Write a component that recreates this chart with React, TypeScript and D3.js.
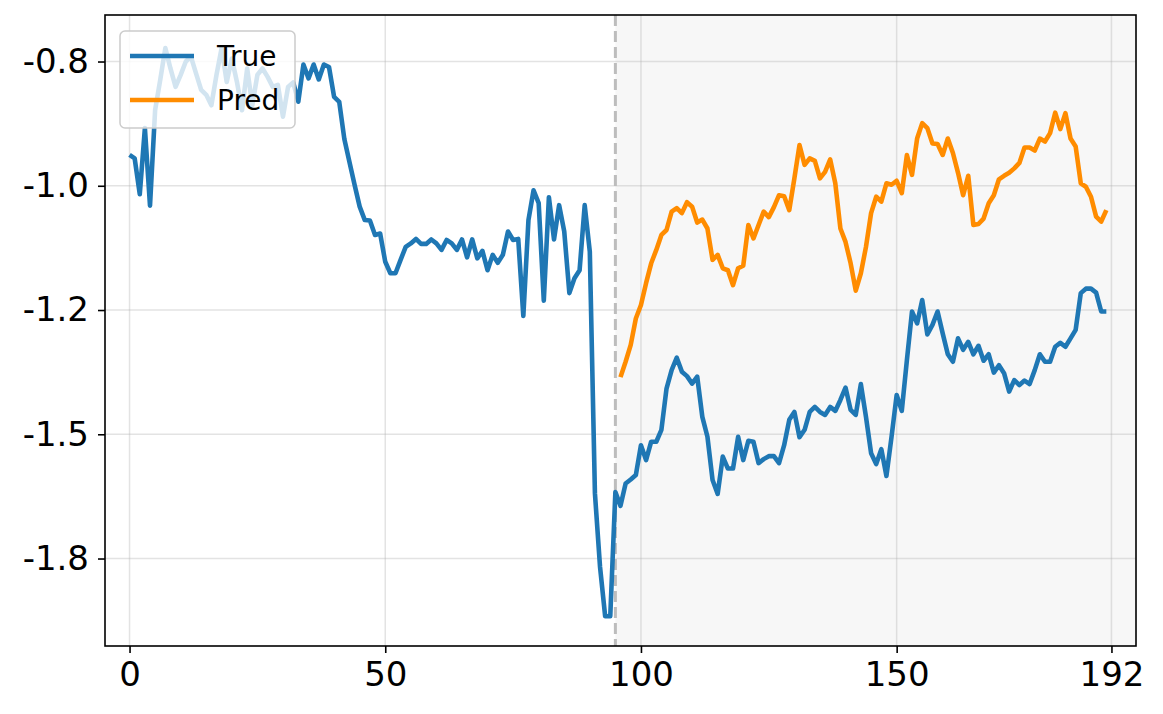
import React, { useRef, useEffect } from "react";
import { select, scaleLinear, line, axisBottom, axisLeft } from "d3";

// series
const trueValues = [
  -0.988, -0.995, -1.067, -0.934, -1.09, -0.898, -0.837, -0.773, -0.814, -0.851,
  -0.827, -0.8, -0.79, -0.824, -0.857, -0.867, -0.888, -0.827, -0.773, -0.841,
  -0.794, -0.841, -0.898, -0.814, -0.888, -0.827, -0.814, -0.831, -0.851, -0.847,
  -0.911, -0.851, -0.842, -0.881, -0.806, -0.834, -0.806, -0.836, -0.806, -0.811,
  -0.871, -0.881, -0.956, -1.002, -1.048, -1.092, -1.119, -1.12, -1.149, -1.146,
  -1.203, -1.226, -1.226, -1.199, -1.173, -1.166, -1.157, -1.167, -1.167, -1.158,
  -1.166, -1.179, -1.159, -1.166, -1.179, -1.158, -1.194, -1.158, -1.196, -1.181,
  -1.22, -1.189, -1.205, -1.189, -1.142, -1.159, -1.157, -1.312, -1.119, -1.059,
  -1.085, -1.281, -1.073, -1.158, -1.089, -1.142, -1.266, -1.236, -1.22, -1.089,
  -1.183, -1.669, -1.817, -1.916, -1.916, -1.666, -1.694, -1.649, -1.641, -1.632,
  -1.572, -1.602, -1.565, -1.565, -1.541, -1.458, -1.421, -1.396, -1.424, -1.433,
  -1.448, -1.434, -1.515, -1.555, -1.642, -1.67, -1.595, -1.619, -1.619, -1.555,
  -1.602, -1.563, -1.565, -1.608, -1.6, -1.594, -1.594, -1.608, -1.572, -1.521,
  -1.505, -1.556, -1.541, -1.505, -1.495, -1.505, -1.511, -1.495, -1.503, -1.481,
  -1.456, -1.501, -1.511, -1.449, -1.515, -1.588, -1.61, -1.58, -1.634, -1.555,
  -1.471, -1.503, -1.401, -1.303, -1.327, -1.28, -1.349, -1.33, -1.303, -1.347,
  -1.389, -1.404, -1.357, -1.38, -1.364, -1.389, -1.372, -1.402, -1.389, -1.426,
  -1.411, -1.427, -1.464, -1.441, -1.451, -1.442, -1.449, -1.421, -1.389, -1.404,
  -1.404, -1.374, -1.366, -1.374, -1.357, -1.34, -1.266, -1.257, -1.257, -1.265,
  -1.303, -1.303,
];

const predStart = 96;
const predValues = [
  -1.435, -1.404, -1.37, -1.317, -1.29, -1.246, -1.206, -1.179, -1.149, -1.139,
  -1.102, -1.095, -1.105, -1.083, -1.092, -1.124, -1.118, -1.136, -1.199, -1.189,
  -1.216, -1.22, -1.25, -1.216, -1.211, -1.129, -1.156, -1.129, -1.102, -1.113,
  -1.093, -1.069, -1.071, -1.099, -1.035, -0.968, -1.008, -0.995, -1.0, -1.035,
  -1.022, -0.997, -1.045, -1.136, -1.163, -1.206, -1.261, -1.226, -1.173, -1.105,
  -1.072, -1.082, -1.045, -1.048, -1.04, -1.065, -0.988, -1.028, -0.955, -0.924,
  -0.934, -0.965, -0.966, -0.988, -0.955, -0.984, -1.024, -1.069, -1.03, -1.129,
  -1.127, -1.116, -1.085, -1.069, -1.037, -1.03, -1.024, -1.015, -1.004, -0.973,
  -0.973, -0.979, -0.955, -0.961, -0.944, -0.903, -0.936, -0.904, -0.955, -0.971,
  -1.045, -1.052, -1.072, -1.112, -1.122, -1.099,
];

const splitAt = 95;
const xTicks = [0, 50, 100, 150, 192];
const yTicks = [-0.8, -1.05, -1.3, -1.55, -1.8];
const yTickLabels = ["-0.8", "-1.0", "-1.2", "-1.5", "-1.8"];
const seriesNames = ["True", "Pred"];
const seriesColors = ["#1f77b4", "#ff8c00"];

function App() {
  const svgRef = useRef(null);
  const width = 1163;
  const height = 714;
  const left = 105, right = 1136, top = 15, bottom = 646;

  useEffect(() => {
    const svg = select(svgRef.current);
    svg.selectAll("*").remove();

    const xscale = scaleLinear().domain([-4.8, 196.8]).range([left, right]);
    const yscale = scaleLinear().domain([-1.976, -0.7064]).range([bottom, top]);

    // shaded forecast part
    svg.append("rect")
      .attr("x", xscale(splitAt))
      .attr("y", top)
      .attr("width", right - xscale(splitAt))
      .attr("height", bottom - top)
      .attr("fill", "#f7f7f7");

    // grid
    const grid = svg.append("g").attr("stroke", "#b0b0b0").attr("stroke-opacity", 0.35).attr("stroke-width", 1.5);
    grid.selectAll(".vg").data(xTicks).join("line")
      .attr("class", "vg")
      .attr("x1", d => xscale(d)).attr("x2", d => xscale(d))
      .attr("y1", top).attr("y2", bottom);
    grid.selectAll(".hg").data(yTicks).join("line")
      .attr("class", "hg")
      .attr("x1", left).attr("x2", right)
      .attr("y1", d => yscale(d)).attr("y2", d => yscale(d));

    // split marker
    svg.append("line")
      .attr("x1", xscale(splitAt)).attr("x2", xscale(splitAt))
      .attr("y1", top).attr("y2", bottom)
      .attr("stroke", "#bdbdbd")
      .attr("stroke-width", 3)
      .attr("stroke-dasharray", "11,5");

    const myLine = line<number>()
      .x((d, i) => xscale(i))
      .y(d => yscale(d));
    const predLine = line<number>()
      .x((d, i) => xscale(i + predStart))
      .y(d => yscale(d));

    svg.append("path")
      .attr("d", myLine(trueValues))
      .attr("fill", "none")
      .attr("stroke", seriesColors[0])
      .attr("stroke-width", 4.6)
      .attr("stroke-linejoin", "round");

    svg.append("path")
      .attr("d", predLine(predValues))
      .attr("fill", "none")
      .attr("stroke", seriesColors[1])
      .attr("stroke-width", 4.6)
      .attr("stroke-linejoin", "round");

    // axes
    const xaxis = axisBottom(xscale).tickValues(xTicks).tickSize(7).tickPadding(9).tickFormat(d => String(d));
    const gx = svg.append("g").attr("transform", `translate(0,${bottom})`).call(xaxis);
    const yaxis = axisLeft(yscale).tickValues(yTicks).tickSize(7).tickPadding(9)
      .tickFormat((d, i) => yTickLabels[i]);
    const gy = svg.append("g").attr("transform", `translate(${left},0)`).call(yaxis);
    [gx, gy].forEach(g => {
      g.select(".domain").remove();
      g.selectAll("line").attr("stroke", "#000").attr("stroke-width", 1.6);
      g.selectAll("text")
        .attr("fill", "#000")
        .style("font-family", "DejaVu Sans")
        .style("font-size", "34px");
    });

    // frame
    svg.append("rect")
      .attr("x", left).attr("y", top)
      .attr("width", right - left).attr("height", bottom - top)
      .attr("fill", "none")
      .attr("stroke", "#000")
      .attr("stroke-width", 1.6);

    // legend
    const lg = svg.append("g");
    lg.append("rect")
      .attr("x", 120).attr("y", 31).attr("width", 175).attr("height", 97)
      .attr("rx", 5)
      .attr("fill", "#fff").attr("fill-opacity", 0.8)
      .attr("stroke", "#cccccc").attr("stroke-width", 1.5);
    seriesNames.forEach((name, i) => {
      const cy = 56 + i * 44;
      lg.append("line")
        .attr("x1", 130).attr("x2", 194)
        .attr("y1", cy).attr("y2", cy)
        .attr("stroke", seriesColors[i]).attr("stroke-width", 4.6);
      lg.append("text")
        .attr("x", 217).attr("y", cy + 10)
        .style("font-family", "DejaVu Sans")
        .style("font-size", "28px")
        .text(name);
    });
  }, []);

  return (
    <svg ref={svgRef} width={width} height={height} style={{ position: "absolute", left: 0, top: 0 }}></svg>
  );
}

export default App;
